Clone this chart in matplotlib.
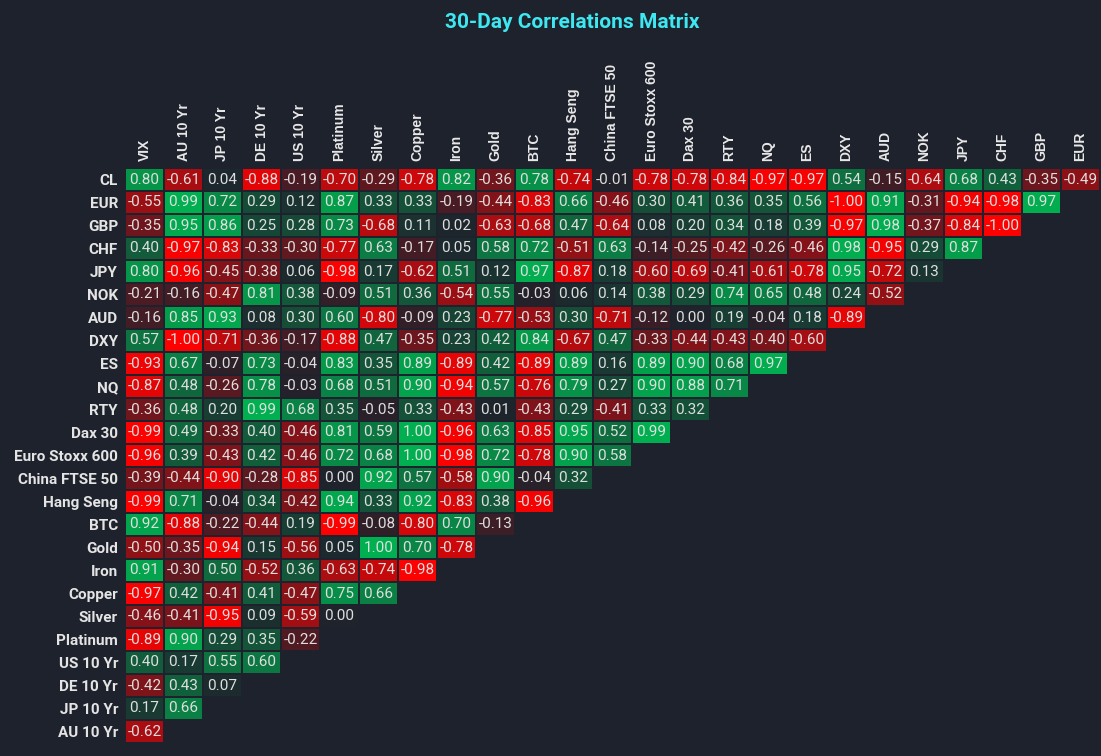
import numpy as np
import matplotlib
matplotlib.use("Agg")
import matplotlib.pyplot as plt
from matplotlib.colors import LinearSegmentedColormap

bg = "#1e222c"

# rows top to bottom, columns left to right
row_labels = ["CL", "EUR", "GBP", "CHF", "JPY", "NOK", "AUD", "DXY", "ES", "NQ", "RTY",
              "Dax 30", "Euro Stoxx 600", "China FTSE 50", "Hang Seng", "BTC", "Gold",
              "Iron", "Copper", "Silver", "Platinum", "US 10 Yr", "DE 10 Yr", "JP 10 Yr",
              "AU 10 Yr"]
col_labels = ["VIX", "AU 10 Yr", "JP 10 Yr", "DE 10 Yr", "US 10 Yr", "Platinum", "Silver",
              "Copper", "Iron", "Gold", "BTC", "Hang Seng", "China FTSE 50", "Euro Stoxx 600",
              "Dax 30", "RTY", "NQ", "ES", "DXY", "AUD", "NOK", "JPY", "CHF", "GBP", "EUR"]

cl = [0.80, -0.61, 0.04, -0.88, -0.19, -0.70, -0.29, -0.78, 0.82, -0.36, 0.78, -0.74, -0.01,
      -0.78, -0.78, -0.84, -0.97, -0.97, 0.54, -0.15, -0.64, 0.68, 0.43, -0.35, -0.49]
eur = [-0.55, 0.99, 0.72, 0.29, 0.12, 0.87, 0.33, 0.33, -0.19, -0.44, -0.83, 0.66, -0.46,
       0.30, 0.41, 0.36, 0.35, 0.56, -1.00, 0.91, -0.31, -0.94, -0.98, 0.97]
gbp = [-0.35, 0.95, 0.86, 0.25, 0.28, 0.73, -0.68, 0.11, 0.02, -0.63, -0.68, 0.47, -0.64,
       0.08, 0.20, 0.34, 0.18, 0.39, -0.97, 0.98, -0.37, -0.84, -1.00]
chf = [0.40, -0.97, -0.83, -0.33, -0.30, -0.77, 0.63, -0.17, 0.05, 0.58, 0.72, -0.51, 0.63,
       -0.14, -0.25, -0.42, -0.26, -0.46, 0.98, -0.95, 0.29, 0.87]
jpy = [0.80, -0.96, -0.45, -0.38, 0.06, -0.98, 0.17, -0.62, 0.51, 0.12, 0.97, -0.87, 0.18,
       -0.60, -0.69, -0.41, -0.61, -0.78, 0.95, -0.72, 0.13]
nok = [-0.21, -0.16, -0.47, 0.81, 0.38, -0.09, 0.51, 0.36, -0.54, 0.55, -0.03, 0.06, 0.14,
       0.38, 0.29, 0.74, 0.65, 0.48, 0.24, -0.52]
aud = [-0.16, 0.85, 0.93, 0.08, 0.30, 0.60, -0.80, -0.09, 0.23, -0.77, -0.53, 0.30, -0.71,
       -0.12, 0.00, 0.19, -0.04, 0.18, -0.89]
dxy = [0.57, -1.00, -0.71, -0.36, -0.17, -0.88, 0.47, -0.35, 0.23, 0.42, 0.84, -0.67, 0.47,
       -0.33, -0.44, -0.43, -0.40, -0.60]
es = [-0.93, 0.67, -0.07, 0.73, -0.04, 0.83, 0.35, 0.89, -0.89, 0.42, -0.89, 0.89, 0.16,
      0.89, 0.90, 0.68, 0.97]
nq = [-0.87, 0.48, -0.26, 0.78, -0.03, 0.68, 0.51, 0.90, -0.94, 0.57, -0.76, 0.79, 0.27,
      0.90, 0.88, 0.71]
rty = [-0.36, 0.48, 0.20, 0.99, 0.68, 0.35, -0.05, 0.33, -0.43, 0.01, -0.43, 0.29, -0.41,
       0.33, 0.32]
dax = [-0.99, 0.49, -0.33, 0.40, -0.46, 0.81, 0.59, 1.00, -0.96, 0.63, -0.85, 0.95, 0.52, 0.99]
stoxx = [-0.96, 0.39, -0.43, 0.42, -0.46, 0.72, 0.68, 1.00, -0.98, 0.72, -0.78, 0.90, 0.58]
ftse = [-0.39, -0.44, -0.90, -0.28, -0.85, 0.00, 0.92, 0.57, -0.58, 0.90, -0.04, 0.32]
hang = [-0.99, 0.71, -0.04, 0.34, -0.42, 0.94, 0.33, 0.92, -0.83, 0.38, -0.96]
btc = [0.92, -0.88, -0.22, -0.44, 0.19, -0.99, -0.08, -0.80, 0.70, -0.13]
gold = [-0.50, -0.35, -0.94, 0.15, -0.56, 0.05, 1.00, 0.70, -0.78]
iron = [0.91, -0.30, 0.50, -0.52, 0.36, -0.63, -0.74, -0.98]
copper = [-0.97, 0.42, -0.41, 0.41, -0.47, 0.75, 0.66]
silver = [-0.46, -0.41, -0.95, 0.09, -0.59, 0.00]
platinum = [-0.89, 0.90, 0.29, 0.35, -0.22]
us10 = [0.40, 0.17, 0.55, 0.60]
de10 = [-0.42, 0.43, 0.07]
jp10 = [0.17, 0.66]
au10 = [-0.62]

rows = [cl, eur, gbp, chf, jpy, nok, aud, dxy, es, nq, rty, dax, stoxx, ftse, hang, btc,
        gold, iron, copper, silver, platinum, us10, de10, jp10, au10]

n = len(col_labels)
mat = np.full((len(rows), n), np.nan)
for i, r in enumerate(rows):
    mat[i, :len(r)] = r

# red -> background -> green
cmap = LinearSegmentedColormap.from_list("rg", ["#ff0000", bg, "#00b050"])

fig = plt.figure(figsize=(11.01, 7.56), dpi=100, facecolor=bg)
ax = fig.add_axes([125 / 1101, 1 - 743 / 756, 975 / 1101, 575 / 756])
ax.set_facecolor(bg)

ax.pcolormesh(np.ma.masked_invalid(mat), cmap=cmap, vmin=-1, vmax=1,
              edgecolors=bg, linewidth=1.4)
ax.set_xlim(0, n)
ax.set_ylim(len(rows), 0)

for i in range(mat.shape[0]):
    for j in range(mat.shape[1]):
        v = mat[i, j]
        if np.isnan(v):
            continue
        ax.text(j + 0.5, i + 0.5, f"{v:.2f}", ha="center", va="center",
                color="#dedede", fontsize=11, family="Roboto")

ax.set_xticks(np.arange(n) + 0.5)
ax.set_xticklabels(col_labels, rotation=90, color="#e8e8e8", fontsize=10,
                   fontweight="bold", family="Liberation Sans")
ax.xaxis.tick_top()
ax.set_yticks(np.arange(len(rows)) + 0.5)
ax.set_yticklabels(row_labels, color="#e4e4e4", fontsize=11, fontweight="bold",
                   family="Roboto")
ax.tick_params(length=0, pad=5)
for s in ax.spines.values():
    s.set_visible(False)

fig.text(572 / 1101, 1 - 22 / 756, "30-Day Correlations Matrix", ha="center", va="center",
         color="#3ee8f2", fontsize=15, fontweight="bold", family="Roboto")

fig.savefig("out.png", dpi=100, facecolor=bg)
